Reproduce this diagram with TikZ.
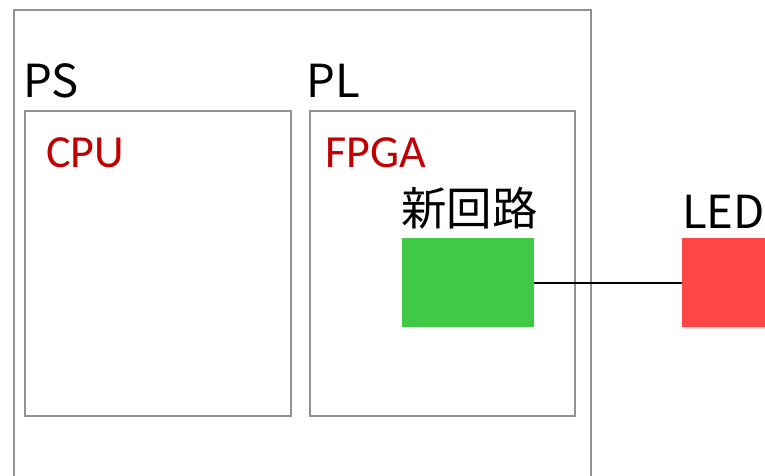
\documentclass[tikz,border=0pt]{standalone}
\usepackage{fontspec}
\newfontfamily\cjkfont{Noto Sans CJK JP}
\newfontfamily\calfont{Carlito}
\definecolor{boxgray}{HTML}{8E9297}
\definecolor{labred}{HTML}{C00000}
\definecolor{newgreen}{HTML}{3FC944}
\definecolor{ledred}{HTML}{FF4646}
\tikzset{
  frame/.style={draw=boxgray, line width=2.3pt, anchor=north west, inner sep=0pt},
  blocklab/.style={anchor=base west, inner sep=0pt, font=\cjkfont\fontsize{45.5}{45.5}\selectfont, text=black},
  redlab/.style={anchor=base west, inner sep=0pt, font=\calfont\fontsize{46}{46}\selectfont, text=labred},
  fillbox/.style={anchor=north west, inner sep=0pt, draw=none},
}
\begin{document}
\begin{tikzpicture}[x=1pt,y=-1pt]
\useasboundingbox (0,0) rectangle (765,475);
\clip (0,0) rectangle (765,475);
\fill[white] (0,0) rectangle (765,475);
\node[frame, minimum width=577pt, minimum height=500pt] (outer) at (12.5,8.5) {};
\node[frame, minimum width=266pt, minimum height=305pt] (ps) at (24,110) {};
\node[frame, minimum width=265pt, minimum height=305pt] (pl) at (309,110) {};
\node[blocklab] (pslab) at (23,97) {PS};
\node[blocklab] (pllab) at (306,97) {PL};
\node[redlab] (cpu) at (46,167) {CPU};
\node[redlab] (fpga) at (325,167) {FPGA};
\node[blocklab] (newlab) at (401,225) {新回路};
\node[blocklab] (ledlab) at (682,228) {LED};
\fill[black!12] (684,240) rectangle (775,329);
\node[fillbox, fill=ledred, minimum width=100pt, minimum height=89pt] (led) at (682,238) {};
\node[fillbox, fill=newgreen, minimum width=132pt, minimum height=89pt] (newc) at (402,238) {};
\draw[line width=2pt, black] (newc.east) -- (led.west);
\end{tikzpicture}
\end{document}
